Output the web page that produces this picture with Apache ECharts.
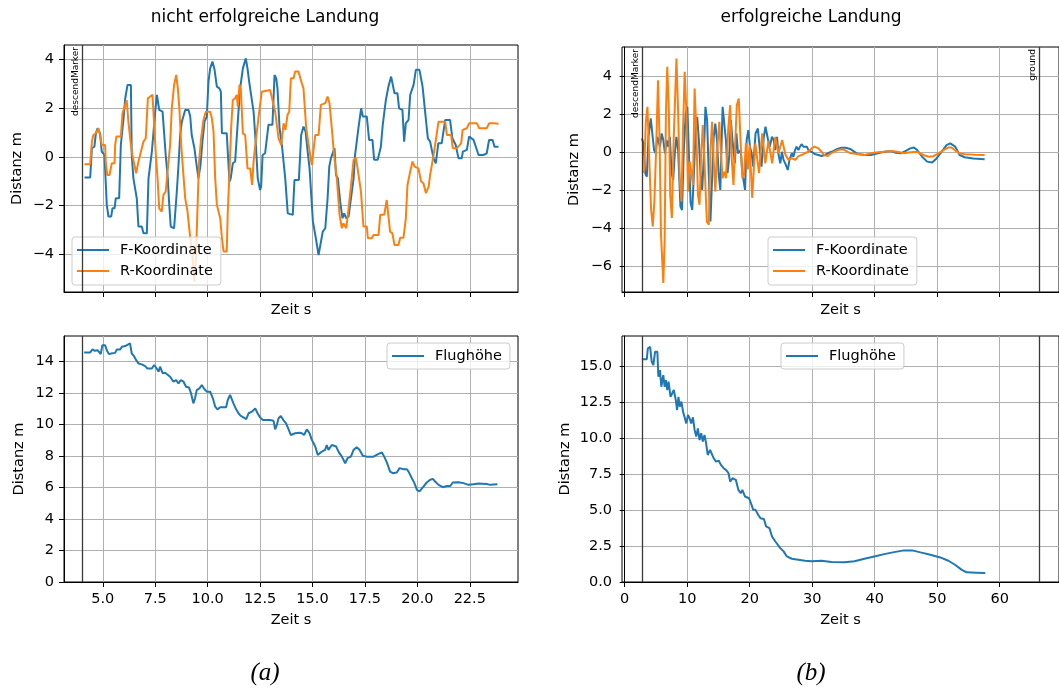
<!DOCTYPE html>
<html>
<head>
<meta charset="utf-8">
<script src="https://cdn.jsdelivr.net/npm/echarts@6/dist/echarts.min.js"></script>
<style>
  html, body { margin: 0; background: #fff; }
  #chart { width: 1059px; height: 689px; }
</style>
</head>
<body>
<div id="chart"></div>
<script>
// (a) nicht erfolgreiche Landung: [Zeit s, Distanz m]
const failF = [[4.13,-0.84],[4.40,-0.84],[4.48,0.36],[4.60,0.42],[4.67,0.97],[4.75,1.18],[4.87,0.97],[4.95,0.22],[5.08,0.08],[5.19,-1.97],[5.27,-2.45],[5.40,-2.45],[5.46,-2.11],[5.56,-2.11],[5.62,-1.70],[5.78,-1.70],[5.86,0.49],[5.99,1.59],[6.07,2.41],[6.18,2.96],[6.34,2.96],[6.38,0.08],[6.46,-0.88],[6.54,-1.29],[6.62,-1.70],[6.70,-2.86],[6.86,-2.86],[6.94,-3.14],[7.10,-3.14],[7.18,-0.88],[7.34,0.22],[7.50,1.86],[7.58,2.55],[7.69,1.93],[7.85,1.86],[8.00,0.08],[8.10,-0.88],[8.16,-1.84],[8.24,-2.86],[8.40,-2.93],[8.53,-1.42],[8.61,-0.33],[8.69,0.90],[8.77,1.45],[8.93,1.93],[9.09,1.93],[9.17,1.66],[9.24,0.90],[9.37,0.36],[9.44,-0.12],[9.56,-0.88],[9.66,-0.33],[9.75,0.63],[9.85,1.45],[9.96,1.66],[10.04,3.10],[10.12,3.64],[10.23,3.92],[10.33,3.58],[10.44,2.89],[10.56,2.82],[10.63,2.68],[10.68,0.97],[10.91,0.97],[11.04,-1.01],[11.10,-0.88],[11.20,-0.26],[11.31,-0.19],[11.47,1.86],[11.55,2.82],[11.68,3.64],[11.82,4.05],[11.90,3.64],[11.99,3.03],[12.07,2.96],[12.19,1.86],[12.30,0.49],[12.39,-0.88],[12.50,-1.36],[12.55,-1.22],[12.62,0.08],[12.74,0.15],[12.90,1.32],[13.09,1.32],[13.19,3.37],[13.27,3.23],[13.33,2.82],[13.43,1.18],[13.54,0.49],[13.70,-0.88],[13.82,-2.32],[14.06,-2.38],[14.14,-0.95],[14.35,-0.95],[14.46,0.90],[14.57,1.25],[14.67,1.04],[14.77,0.22],[14.86,-0.47],[15.02,-2.66],[15.16,-3.34],[15.29,-4.03],[15.37,-4.10],[15.49,-3.07],[15.61,-2.93],[15.72,-1.70],[15.80,-0.40],[15.88,-0.05],[16.05,0.36],[16.12,-0.74],[16.21,-0.88],[16.32,-1.84],[16.43,-2.52],[16.51,-2.32],[16.61,-2.52],[16.72,-2.45],[16.96,-0.88],[17.03,0.08],[17.11,0.63],[17.19,1.18],[17.32,2.00],[17.40,1.66],[17.59,1.66],[17.70,0.70],[17.86,0.70],[17.94,-0.12],[18.11,-0.12],[18.26,0.42],[18.35,1.32],[18.50,2.34],[18.62,2.89],[18.75,3.30],[18.91,2.62],[19.05,2.62],[19.13,2.00],[19.29,1.93],[19.37,0.63],[19.45,1.38],[19.58,1.52],[19.66,2.55],[19.82,2.96],[19.93,3.58],[20.10,3.58],[20.25,2.89],[20.37,1.86],[20.50,0.77],[20.61,0.63],[20.77,-0.05],[20.88,-0.26],[21.00,0.56],[21.16,0.56],[21.33,1.52],[21.56,1.52],[21.67,0.77],[21.83,0.49],[21.96,-0.05],[22.12,-0.05],[22.17,0.22],[22.36,0.29],[22.47,0.84],[22.68,0.70],[22.92,0.08],[23.15,0.08],[23.31,0.15],[23.42,0.70],[23.59,0.70],[23.68,0.42],[23.87,0.42]];
const failR = [[4.13,-0.30],[4.40,-0.30],[4.48,0.63],[4.55,0.90],[4.67,0.97],[4.79,1.18],[4.87,0.90],[4.95,0.49],[5.11,0.49],[5.14,-0.19],[5.21,-0.74],[5.32,-0.74],[5.43,-0.26],[5.56,-0.26],[5.59,0.49],[5.65,0.84],[5.86,0.84],[5.94,1.79],[6.03,1.86],[6.14,2.34],[6.22,1.45],[6.34,0.49],[6.41,0.08],[6.59,-0.67],[6.70,-0.19],[6.94,0.63],[7.05,0.77],[7.15,2.41],[7.37,2.55],[7.45,1.32],[7.53,0.08],[7.61,-0.88],[7.69,-2.11],[7.81,-2.25],[7.89,-1.56],[8.00,-1.42],[8.21,0.49],[8.29,2.00],[8.40,2.96],[8.50,3.37],[8.58,2.82],[8.66,1.86],[8.74,0.49],[8.85,-0.81],[8.93,-1.70],[9.04,-2.25],[9.17,-3.34],[9.24,-3.75],[9.36,-5.12],[9.44,-4.16],[9.52,-2.00],[9.59,-0.19],[9.69,0.77],[9.80,1.52],[9.91,1.86],[10.12,1.86],[10.20,1.60],[10.28,1.04],[10.36,-0.88],[10.44,-1.97],[10.60,-2.52],[10.68,-3.34],[10.76,-3.89],[10.91,-3.89],[10.96,-2.25],[11.03,-0.88],[11.12,1.18],[11.20,2.34],[11.31,2.41],[11.39,2.55],[11.44,2.07],[11.52,2.96],[11.58,2.82],[11.68,0.97],[11.79,0.90],[11.90,-0.47],[12.03,-0.47],[12.12,-1.15],[12.19,-0.19],[12.27,0.49],[12.46,1.86],[12.58,2.68],[12.98,2.75],[13.06,2.68],[13.22,1.86],[13.38,0.77],[13.51,0.49],[13.62,1.38],[13.71,1.11],[13.81,1.73],[13.89,1.86],[13.97,3.23],[14.10,3.23],[14.17,3.51],[14.33,3.51],[14.49,3.03],[14.57,2.82],[14.70,1.18],[14.76,1.11],[14.84,0.36],[14.97,-0.33],[15.13,0.90],[15.29,0.90],[15.40,2.14],[15.61,2.21],[15.72,2.48],[15.81,2.21],[15.92,1.18],[16.03,0.08],[16.16,-0.88],[16.29,-2.38],[16.40,-2.93],[16.48,-2.73],[16.61,-2.93],[16.72,-2.11],[16.84,-1.15],[16.96,-0.12],[17.07,-0.05],[17.15,-0.47],[17.31,-1.42],[17.43,-2.86],[17.59,-2.86],[17.64,-3.34],[17.83,-3.34],[17.91,-3.21],[18.15,-3.21],[18.23,-2.38],[18.42,-2.38],[18.54,-1.77],[18.70,-3.07],[18.81,-3.14],[18.91,-3.62],[19.10,-3.62],[19.18,-3.32],[19.34,-3.32],[19.45,-2.52],[19.53,-1.15],[19.58,-1.15],[19.66,-0.60],[19.77,-0.19],[19.87,-0.40],[20.05,-0.47],[20.18,-1.01],[20.29,-1.08],[20.41,-1.49],[20.54,-1.22],[20.61,-0.74],[20.72,-0.19],[20.80,0.22],[21.01,1.45],[21.33,1.45],[21.41,0.90],[21.61,0.90],[21.69,0.36],[21.88,0.36],[22.09,0.56],[22.16,1.11],[22.36,1.18],[22.47,1.38],[22.84,1.38],[22.95,1.18],[23.31,1.18],[23.42,1.38],[23.63,1.38],[23.87,1.36]];
const failHeight = [[4.11,14.56],[4.40,14.56],[4.51,14.75],[4.62,14.66],[4.75,14.70],[4.83,14.60],[4.90,14.45],[4.98,15.02],[5.11,15.02],[5.19,14.70],[5.29,14.45],[5.40,14.49],[5.59,14.53],[5.67,14.75],[5.83,14.75],[5.91,14.92],[6.07,14.96],[6.14,15.08],[6.30,15.13],[6.38,14.49],[6.49,14.32],[6.59,14.07],[6.70,13.86],[6.86,13.80],[7.02,13.69],[7.13,13.54],[7.34,13.54],[7.45,13.76],[7.57,13.54],[7.66,13.33],[7.73,13.65],[7.86,13.23],[7.97,13.27],[8.08,13.16],[8.21,13.02],[8.37,12.70],[8.50,12.80],[8.61,12.59],[8.72,12.80],[8.85,12.70],[8.97,12.38],[9.11,12.34],[9.21,11.96],[9.32,11.33],[9.40,11.65],[9.48,12.17],[9.61,12.28],[9.72,12.49],[9.85,12.22],[9.96,12.07],[10.12,12.07],[10.25,11.65],[10.36,11.12],[10.47,10.95],[10.60,11.08],[10.88,11.08],[10.96,11.54],[11.07,11.86],[11.15,11.96],[11.23,11.33],[11.36,10.95],[11.47,10.70],[11.58,10.53],[11.71,10.44],[11.84,10.32],[11.95,10.70],[12.11,10.80],[12.27,11.01],[12.38,10.70],[12.50,10.44],[12.63,10.27],[12.98,10.27],[13.14,10.23],[13.22,9.68],[13.30,9.96],[13.38,10.38],[13.49,10.53],[13.61,10.27],[13.74,10.06],[13.86,9.68],[13.97,9.32],[14.17,9.43],[14.38,9.47],[14.49,9.43],[14.60,9.32],[14.73,9.68],[14.86,9.43],[14.97,9.01],[15.13,8.59],[15.25,8.06],[15.45,8.27],[15.60,8.38],[15.68,8.69],[15.76,8.38],[15.92,8.69],[16.13,8.59],[16.24,8.27],[16.40,7.95],[16.56,7.53],[16.67,7.85],[16.83,7.95],[16.96,8.38],[17.11,8.54],[17.24,8.38],[17.40,8.00],[17.59,7.95],[17.91,7.95],[18.15,8.12],[18.31,8.21],[18.42,7.95],[18.55,7.57],[18.70,7.00],[18.83,6.90],[19.02,6.94],[19.15,7.22],[19.34,7.15],[19.50,7.15],[19.58,7.00],[19.74,6.58],[19.86,6.27],[19.98,5.84],[20.10,5.74],[20.29,6.05],[20.45,6.31],[20.61,6.48],[20.74,6.54],[20.85,6.37],[21.01,6.16],[21.22,6.01],[21.41,6.09],[21.57,6.09],[21.69,6.31],[21.96,6.33],[22.20,6.27],[22.44,6.16],[22.68,6.20],[22.92,6.24],[23.31,6.22],[23.47,6.16],[23.82,6.20]];

// (b) erfolgreiche Landung: [Zeit s, Distanz m]
const okF = [[2.75,0.74],[3.01,0.47],[3.28,-1.10],[3.54,-1.28],[3.80,0.82],[4.17,1.79],[4.43,1.79],[4.70,0.12],[4.96,-0.05],[5.23,0.82],[5.49,0.82],[5.65,0.30],[5.91,1.00],[6.18,0.65],[6.44,-0.05],[6.70,0.65],[6.97,0.30],[7.23,0.82],[7.50,-1.10],[7.76,-1.46],[8.02,-0.05],[8.28,0.82],[8.55,0.12],[8.92,-2.86],[9.18,-3.04],[9.44,-0.05],[9.76,2.05],[10.03,2.40],[10.29,-0.23],[10.55,-2.68],[10.81,-3.04],[11.08,-1.10],[11.34,1.00],[11.60,1.87],[11.87,0.65],[12.13,-1.10],[12.40,-1.98],[12.66,-0.23],[12.92,2.40],[13.19,1.70],[13.45,-1.10],[13.72,-3.65],[13.98,-1.46],[14.24,0.82],[14.50,1.52],[14.77,0.65],[15.03,-1.10],[15.30,-1.98],[15.67,2.40],[15.93,2.49],[16.20,0.65],[16.46,-1.10],[16.73,-0.23],[16.99,1.70],[17.25,0.65],[17.62,-0.58],[17.88,1.00],[18.14,-0.05],[18.57,0.12],[18.83,-1.10],[19.26,-1.98],[19.52,0.65],[19.78,1.17],[20.05,0.30],[20.31,-0.05],[20.57,-0.75],[20.94,1.00],[21.31,1.26],[21.63,0.12],[21.89,-0.75],[22.26,0.82],[22.53,1.35],[22.95,0.65],[23.21,0.30],[23.57,0.82],[23.84,0.65],[24.10,0.12],[24.37,0.82],[24.63,-0.14],[24.90,-0.58],[25.16,0.03],[25.42,-0.40],[25.69,-0.58],[26.10,-0.93],[26.37,-0.40],[26.74,-0.05],[27.00,-0.23],[27.26,0.12],[27.50,0.30],[27.80,0.12],[28.05,0.30],[28.30,0.43],[28.60,0.30],[28.90,0.21],[29.15,0.30],[29.40,0.12],[29.90,0.03],[30.40,-0.09],[31.00,-0.14],[31.50,-0.19],[32.00,-0.14],[32.50,-0.05],[33.10,0.03],[33.90,0.16],[34.70,0.24],[35.40,0.24],[36.20,0.16],[37.30,-0.09],[38.40,-0.14],[39.40,-0.14],[40.50,-0.05],[41.50,0.03],[42.60,0.07],[43.40,-0.02],[44.20,-0.05],[44.90,0.07],[45.70,0.21],[46.30,0.26],[46.80,0.12],[47.60,-0.23],[48.40,-0.49],[49.20,-0.54],[49.90,-0.32],[50.70,0.03],[51.50,0.38],[52.10,0.47],[52.90,0.30],[53.60,-0.14],[54.40,-0.26],[55.80,-0.32],[57.60,-0.37]];
const okR = [[2.75,-1.02],[3.12,-1.02],[3.38,1.61],[3.64,2.40],[3.91,-0.14],[4.22,-2.98],[4.49,-3.91],[4.75,-2.60],[5.02,0.04],[5.33,3.81],[5.60,0.39],[5.81,-4.35],[6.18,-6.89],[6.39,-4.70],[6.60,2.14],[6.81,4.51],[7.07,2.14],[7.28,-2.25],[7.55,-3.47],[7.81,0.39],[8.08,3.02],[8.28,4.95],[8.55,2.14],[8.81,-1.37],[9.08,-2.60],[9.34,1.26],[9.60,4.25],[9.87,2.14],[10.13,-2.07],[10.40,-0.49],[10.66,-1.02],[10.92,-1.72],[11.19,3.37],[11.45,1.26],[11.72,-2.25],[11.98,-2.77],[12.24,-0.14],[12.50,1.44],[12.77,-0.49],[13.14,-3.65],[13.46,-3.82],[13.72,0.04],[13.98,1.61],[14.25,-0.49],[14.51,-2.07],[14.77,0.04],[15.14,1.61],[15.41,-0.14],[15.67,-1.37],[15.93,-1.02],[16.20,-1.37],[16.57,1.26],[16.88,2.49],[17.15,-0.49],[17.41,-1.72],[17.67,0.39],[17.94,2.49],[18.25,2.84],[18.57,0.39],[18.83,-1.37],[19.10,-1.19],[19.40,0.50],[19.70,-0.90],[20.00,0.40],[20.40,-2.40],[20.90,0.47],[21.50,-1.10],[22.00,1.00],[22.50,-0.58],[23.00,0.60],[23.60,-0.58],[24.10,0.82],[24.60,-0.05],[25.20,0.65],[25.70,-0.10],[26.20,-0.40],[26.70,-0.30],[27.30,-0.40],[27.80,-0.20],[28.30,-0.14],[28.80,-0.05],[29.40,0.03],[29.90,0.21],[30.40,0.30],[31.00,0.21],[31.50,0.03],[32.00,-0.16],[32.50,-0.19],[33.00,-0.05],[33.60,0.05],[34.10,0.12],[34.70,0.16],[35.20,0.12],[35.70,0.03],[36.20,-0.05],[37.30,-0.09],[38.40,-0.14],[39.40,-0.05],[40.50,0.00],[41.50,0.03],[42.60,0.07],[43.60,0.03],[44.70,-0.05],[45.70,0.00],[46.80,0.03],[47.80,-0.14],[48.60,-0.23],[49.40,-0.20],[50.20,-0.05],[51.00,0.12],[51.80,0.26],[52.30,0.26],[52.80,0.12],[53.60,-0.05],[54.40,-0.10],[55.80,-0.12],[57.60,-0.14]];
const okHeight = [[2.75,15.51],[3.54,15.51],[3.70,16.25],[4.07,16.37],[4.33,15.32],[4.59,15.09],[4.86,16.02],[5.23,16.02],[5.39,14.28],[5.65,14.75],[5.86,13.59],[6.18,14.40],[6.39,13.59],[6.59,14.05],[6.81,13.36],[7.02,13.94],[7.34,12.89],[7.60,13.00],[7.86,13.36],[8.18,12.66],[8.39,11.97],[8.60,12.89],[8.81,12.20],[9.07,12.55],[9.34,11.85],[9.60,11.97],[9.86,11.04],[10.13,11.62],[10.39,11.39],[10.65,11.04],[10.92,11.46],[11.19,10.58],[11.45,10.12],[11.71,10.69],[11.98,9.88],[12.24,10.35],[12.50,9.77],[12.77,10.23],[13.03,9.65],[13.29,8.84],[13.66,9.19],[13.98,9.19],[14.25,8.61],[14.62,8.38],[15.03,8.45],[15.40,8.15],[15.83,7.92],[16.20,7.80],[16.62,7.57],[16.88,6.99],[17.25,7.22],[17.78,7.11],[18.20,6.41],[18.57,6.18],[18.83,6.41],[19.26,5.95],[19.89,5.83],[20.30,5.37],[20.57,5.02],[20.94,5.02],[21.36,4.68],[21.73,4.44],[22.27,4.38],[22.63,3.87],[23.16,3.75],[23.58,3.17],[24.11,2.82],[24.90,2.36],[25.43,2.13],[25.95,1.78],[26.74,1.62],[27.80,1.55],[28.85,1.48],[29.91,1.44],[31.50,1.48],[33.07,1.39],[35.20,1.37],[36.77,1.44],[38.36,1.62],[39.94,1.78],[41.53,1.94],[43.11,2.08],[44.70,2.20],[46.00,2.20],[47.33,2.06],[48.90,1.90],[50.50,1.71],[51.80,1.48],[52.85,1.20],[53.90,0.86],[54.70,0.67],[56.30,0.65],[57.70,0.63]];

// Marker lines and their labels
const failMarkers = [4.0];
const failMarkerNames = ['descendMarker'];
const okMarkers = [2.75, 66.3];
const okMarkerNames = ['descendMarker', 'ground'];

// tick values
const failTimeTicks = [5, 7.5, 10, 12.5, 15, 17.5, 20, 22.5];
const okTimeTicks = [0, 10, 20, 30, 40, 50, 60];
const failCoordTicks = [-4, -2, 0, 2, 4];
const okCoordTicks = [-6, -4, -2, 0, 2, 4];
const failHeightTicks = [0, 2, 4, 6, 8, 10, 12, 14];
const okHeightTicks = [0, 2.5, 5, 7.5, 10, 12.5, 15];

const FONT = 'DejaVu Sans';
const FS = 14.5;
const BLUE = '#1f77b4', ORANGE = '#ff7f0e';
const minus = v => String(v).replace('-', '\u2212');
const oneDec = v => v.toFixed(1);

const chart = echarts.init(document.getElementById('chart'), null, { renderer: 'canvas' });

function xAx(gridIndex, min, max, ticks, showLabels, fmt, nameGap) {
  return {
    type: 'value', gridIndex, min, max,
    name: 'Zeit s', nameLocation: 'middle', nameGap,
    nameTextStyle: { fontFamily: FONT, fontSize: FS, color: '#000' },
    axisLine: { show: true, onZero: false, lineStyle: { color: '#000', width: 1 } },
    axisTick: { show: true, length: 5, customValues: ticks, lineStyle: { color: '#000', width: 1 } },
    axisLabel: { show: showLabels, customValues: ticks, formatter: fmt, margin: 10,
      fontFamily: FONT, fontSize: FS, color: '#000' },
    splitLine: { show: true, lineStyle: { color: '#b0b0b0', width: 1 } }
  };
}
function yAx(gridIndex, min, max, ticks, fmt, nameGap) {
  return {
    type: 'value', gridIndex, min, max,
    name: 'Distanz m', nameLocation: 'middle', nameRotate: 90, nameGap,
    nameTextStyle: { fontFamily: FONT, fontSize: FS, color: '#000' },
    axisLine: { show: true, lineStyle: { color: '#000', width: 1 } },
    axisTick: { show: true, length: 5, customValues: ticks, lineStyle: { color: '#000', width: 1 } },
    axisLabel: { customValues: ticks, formatter: fmt, margin: 10,
      fontFamily: FONT, fontSize: FS, color: '#000' },
    splitLine: { show: true, lineStyle: { color: '#b0b0b0', width: 1 } }
  };
}
function markLines(values, names) {
  return {
    symbol: ['none', 'none'], silent: true, animation: false,
    lineStyle: { color: '#3a3a3a', width: 1.3, type: 'solid' },
    label: { show: false },
    data: values.map((v, i) => ({
      xAxis: v,
      label: names ? { show: true, formatter: names[i], position: 'insideEndTop', distance: [2, 2],
        fontFamily: FONT, fontSize: 9, color: '#000' } : { show: false }
    }))
  };
}
function line(name, data, color, idx, mark) {
  const s = { type: 'line', name, data, xAxisIndex: idx, yAxisIndex: idx, showSymbol: false,
    symbol: 'none', lineStyle: { color, width: 2 }, itemStyle: { color }, z: 3 };
  if (mark) s.markLine = mark;
  return s;
}
function legend(names, left, top, padding) {
  return {
    data: names, left, top, orient: 'vertical', icon: 'rect', itemWidth: 32, itemHeight: 2,
    itemGap: 5, padding, backgroundColor: 'rgba(255,255,255,0.8)', borderColor: '#cccccc',
    borderWidth: 1, borderRadius: 3, selectedMode: false,
    textStyle: { fontFamily: FONT, fontSize: FS, color: '#000', lineHeight: 16, padding: [0, 0, 0, 6] }
  };
}

const option = {
  animation: false,
  backgroundColor: '#fff',
  grid: [
    { left: 64, top: 45, width: 454, height: 247 },
    { left: 622, top: 47, width: 442, height: 245 },
    { left: 64, top: 336, width: 454, height: 246 },
    { left: 622, top: 336, width: 442, height: 246 }
  ].map(g => Object.assign(g, { show: true, borderColor: '#000', borderWidth: 1, containLabel: false })),
  xAxis: [
    xAx(0, 3.15, 24.8, failTimeTicks, false, oneDec, 11),
    xAx(1, -0.43, 69.5, okTimeTicks, false, null, 11),
    xAx(2, 3.15, 24.8, failTimeTicks, true, oneDec, 31),
    xAx(3, -0.43, 69.5, okTimeTicks, true, null, 31)
  ],
  yAxis: [
    yAx(0, -5.55, 4.6, failCoordTicks, minus, 39),
    yAx(1, -7.37, 5.56, okCoordTicks, minus, 40),
    yAx(2, 0, 15.6, failHeightTicks, null, 37),
    yAx(3, 0, 17.12, okHeightTicks, oneDec, 49)
  ],
  legend: [
    legend(['F-Koordinate', 'R-Koordinate'], 72, 237, [5, 8, 6, 5]),
    legend(['F-Koordinate', 'R-Koordinate'], 768, 237, [5, 8, 6, 5]),
    legend(['Flughöhe'], 387, 343, [5, 8, 5, 5]),
    legend(['Flughöhe'], 781, 343, [5, 8, 5, 5])
  ],
  series: [
    line('F-Koordinate', failF, BLUE, 0, markLines(failMarkers, failMarkerNames)),
    line('R-Koordinate', failR, ORANGE, 0),
    line('F-Koordinate', okF, BLUE, 1, markLines(okMarkers, okMarkerNames)),
    line('R-Koordinate', okR, ORANGE, 1),
    line('Flughöhe', failHeight, BLUE, 2, markLines(failMarkers, null)),
    line('Flughöhe', okHeight, BLUE, 3, markLines(okMarkers, null))
  ],
  graphic: [
    { type: 'text', x: 265, y: 18, style: { text: 'nicht erfolgreiche Landung', font: '17px "DejaVu Sans"', fill: '#000', textAlign: 'center', textVerticalAlign: 'middle' } },
    { type: 'text', x: 811, y: 18, style: { text: 'erfolgreiche Landung', font: '17px "DejaVu Sans"', fill: '#000', textAlign: 'center', textVerticalAlign: 'middle' } },
    { type: 'text', x: 265, y: 673, style: { text: '(a)', font: 'italic 25px "Liberation Serif"', fill: '#000', textAlign: 'center', textVerticalAlign: 'middle' } },
    { type: 'text', x: 811, y: 673, style: { text: '(b)', font: 'italic 25px "Liberation Serif"', fill: '#000', textAlign: 'center', textVerticalAlign: 'middle' } }
  ]
};
chart.setOption(option);
</script>
</body>
</html>
